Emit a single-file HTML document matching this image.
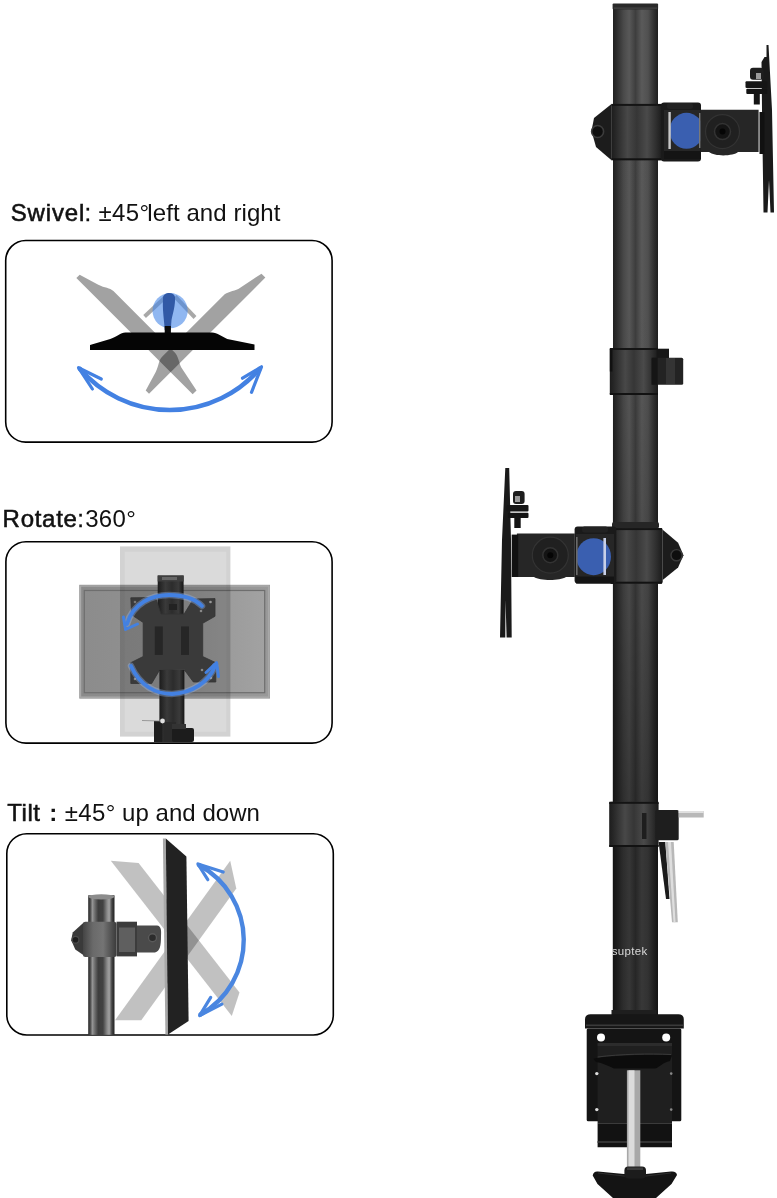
<!DOCTYPE html>
<html><head><meta charset="utf-8">
<style>
html,body{margin:0;padding:0;background:#fff;width:777px;height:1198px;overflow:hidden}
svg{position:absolute;left:0;top:0;display:block}
text{font-family:"Liberation Sans",sans-serif;fill:#111}
</style></head>
<body>
<svg width="777" height="1198" viewBox="0 0 777 1198">
<defs>
  <linearGradient id="pole" x1="0" x2="1" y1="0" y2="0">
    <stop offset="0" stop-color="#202020"/>
    <stop offset="0.08" stop-color="#2c2c2c"/>
    <stop offset="0.24" stop-color="#4a4a4a"/>
    <stop offset="0.36" stop-color="#585858"/>
    <stop offset="0.5" stop-color="#3e3e3e"/>
    <stop offset="0.64" stop-color="#5a5a5a"/>
    <stop offset="0.78" stop-color="#505050"/>
    <stop offset="0.91" stop-color="#303030"/>
    <stop offset="1" stop-color="#1e1e1e"/>
  </linearGradient>
</defs>

<!-- ============ Labels ============ -->
<g font-size="24" fill="#111">
  <text x="10.7" y="221" stroke="#111" stroke-width="0.55" letter-spacing="0.86">Swivel</text>
  <text x="84.5" y="221" stroke="#111" stroke-width="0.3">:</text>
  <text x="98.4" y="221" letter-spacing="0.43">±45°</text>
  <text x="147.3" y="221" letter-spacing="0.08">left and right</text>

  <text x="2.6" y="526.8" stroke="#111" stroke-width="0.55" letter-spacing="0.72">Rotate</text>
  <text x="77.2" y="526.8" stroke="#111" stroke-width="0.3">:</text>
  <text x="85.2" y="526.8" letter-spacing="0.33">360°</text>

  <text x="7.3" y="821" stroke="#111" stroke-width="0.55" letter-spacing="0.5">Tilt</text>
  <text x="49.2" y="821" font-weight="bold">:</text>
  <text x="64.7" y="821" letter-spacing="0.43">±45°</text>
  <text x="122" y="821" letter-spacing="0.05">up and down</text>
</g>

<!-- ============ Panel boxes ============ -->
<rect x="5.7" y="240.5" width="326.4" height="201.6" rx="20" fill="none" stroke="#000" stroke-width="1.6"/>
<rect x="5.9" y="541.7" width="326.2" height="201.4" rx="20" fill="none" stroke="#000" stroke-width="1.6"/>
<rect x="6.8" y="833.7" width="326.5" height="201.3" rx="20" fill="none" stroke="#000" stroke-width="1.6"/>


<!-- ============ Swivel panel ============ -->
<g id="swivel">
  <g opacity="0.36">
    <path transform="translate(134.5,336.2) rotate(45)" d="M-82.25,0 L-82.25,-4.7 L-62,-10.8 C-55,-13 -52,-17 -46.8,-17 L39.6,-17 C45,-17 50,-13 55,-11 L82.25,-5.5 L82.25,0 Z" fill="#000"/>
  </g>
  <g opacity="0.36">
    <path transform="translate(207.2,335.7) rotate(-45)" d="M-82.25,0 L-82.25,-4.7 L-62,-10.8 C-55,-13 -52,-17 -46.8,-17 L39.6,-17 C45,-17 50,-13 55,-11 L82.25,-5.5 L82.25,0 Z" fill="#000"/>
  </g>
  <!-- thin necks -->
  <path d="M144.6,316.5 L166,296.5" stroke="#000" stroke-opacity="0.34" stroke-width="4" fill="none"/>
  <path d="M195,317.5 L175,296.5" stroke="#000" stroke-opacity="0.34" stroke-width="4" fill="none"/>
  <circle cx="170.1" cy="310.7" r="17.6" fill="rgb(70,135,232)" opacity="0.6"/>
  <path d="M163,298 C163,292 174,291 175,297 C175.5,305 173,313 171.5,320 C171,325 171,328 170.9,330 L164.7,330 C164.5,324 163.5,318 163,310 C162.8,304 162.9,301 163,298 Z" fill="#3159a6"/>
  <rect x="164.7" y="326" width="6.2" height="7" fill="#0a0a0a"/>
  <path transform="translate(172.25,350)" d="M-82.25,0 L-82.25,-4.9 L-62,-11 C-55,-13 -52,-17.4 -46.8,-17.4 L39.6,-17.4 C45,-17.4 50,-13 55,-11 L82.25,-5.5 L82.25,0 Z" fill="#050505"/>
  <!-- arrow -->
  <g fill="none" stroke="#4381e2" stroke-linecap="round" stroke-linejoin="round">
    <path d="M80,369 A118.7,118.7 0 0 0 259.5,369" stroke-width="4.6"/>
    <path d="M101.3,379 L78.5,367.7 L92.4,389" stroke-width="3.2"/>
    <path d="M242.5,378.2 L261.5,366.8 L251.5,392.3" stroke-width="3.2"/>
  </g>
</g>


<!-- ============ Rotate panel ============ -->
<g id="rotate">
  <defs>
    <linearGradient id="rpole" x1="0" x2="1">
      <stop offset="0" stop-color="#1c1c1c"/><stop offset="0.3" stop-color="#3a3a3a"/>
      <stop offset="0.55" stop-color="#2c2c2c"/><stop offset="0.8" stop-color="#3a3a3a"/><stop offset="1" stop-color="#161616"/>
    </linearGradient>
  </defs>
  <!-- portrait monitor -->
  <rect x="120" y="546.4" width="110.4" height="190.2" fill="#d2d2d2"/>
  <rect x="124.7" y="551.7" width="101.5" height="180" fill="#dadada"/>
  <!-- landscape monitor (multiply) -->
  <defs>
    <linearGradient id="lscr" x1="0" x2="1">
      <stop offset="0" stop-color="#8c8c8c"/><stop offset="0.5" stop-color="#929292"/><stop offset="1" stop-color="#a2a2a2"/>
    </linearGradient>
    <linearGradient id="lfr" x1="0" x2="1">
      <stop offset="0" stop-color="#8a8a8a"/><stop offset="1" stop-color="#999"/>
    </linearGradient>
  </defs>
  <g style="mix-blend-mode:multiply">
    <rect x="79.3" y="584.8" width="190.7" height="113.8" fill="url(#lfr)"/>
    <rect x="80.5" y="586" width="188.3" height="111.2" fill="none" stroke="#aaa" stroke-width="1.4"/>
    <rect x="84.3" y="590.5" width="180.4" height="102.2" fill="url(#lscr)" stroke="#6e6e6e" stroke-width="1.2"/>
  </g>
  <!-- pole -->
  <rect x="157.7" y="575.5" width="25.9" height="50" fill="url(#rpole)"/>
  <rect x="157.7" y="575.5" width="25.9" height="6" fill="#3e3e3e"/>
  <rect x="162" y="577" width="15" height="3" fill="#666"/>
  <!-- VESA plate -->
  <polygon points="130.8,597.8 155.6,597.5 161.0,614.0 184.1,614.0 193.4,599.0 215.0,598.6 215.0,616.3 202.7,623.3 202.7,656.5 215.8,662.7 215.8,682.0 193.4,682.0 184.1,669.6 159.4,670.4 151.7,683.5 130.8,683.5 130.8,662.7 143.2,656.5 143.2,622.5 131.6,614.8" fill="#3a3a3a" stroke="#333" stroke-width="0.8" stroke-linejoin="round"/>
  <rect x="154.8" y="626.4" width="8" height="28.5" fill="#262626"/>
  <rect x="181" y="626.4" width="8" height="28.5" fill="#262626"/>
  <rect x="169" y="604" width="8" height="6" fill="#222"/>
  <circle cx="135" cy="602" r="1.3" fill="#777"/>
  <circle cx="210.5" cy="602" r="1.3" fill="#999"/>
  <circle cx="201" cy="611" r="1.3" fill="#888"/>
  <circle cx="135" cy="679" r="1.3" fill="#888"/>
  <circle cx="202" cy="670" r="1.3" fill="#888"/>
  <circle cx="211" cy="678" r="1.3" fill="#888"/>
  <!-- lower pole -->
  <rect x="159.4" y="670" width="25" height="72" fill="url(#rpole)"/>
  <!-- rotation arrows -->
  <g fill="none" stroke-linecap="round" stroke-linejoin="round">
    <g stroke="#9cc0ff" stroke-opacity="0.35" stroke-width="6.5">
      <path d="M127,624 C133,603 152,595 169,595 C185,595 196,600 202,606"/>
      <path d="M131,666 C140,686 156,694 172,694 C192,693 209,682 215,666"/>
    </g>
    <g stroke="#4381e2" stroke-width="3.8">
      <path d="M127,624 C133,603 152,595 169,595 C185,595 196,600 202,606"/>
      <path d="M131,666 C140,686 156,694 172,694 C192,693 209,682 215,666"/>
    </g>
    <g stroke="#4381e2" stroke-width="3">
      <path d="M123.5,617 L125.5,629.5 L137.5,624"/>
      <path d="M206,672.5 L216.6,662.7 L218.5,676.5"/>
    </g>
  </g>
  <!-- lower clamp -->
  <rect x="154" y="721" width="8" height="21" fill="#1e1e1e"/>
  <rect x="164" y="722" width="12" height="20" fill="#2a2a2a"/>
  <rect x="172" y="728" width="22" height="14" rx="2" fill="#1c1c1c"/>
  <rect x="172" y="724" width="14" height="5" fill="#333"/>
  <circle cx="162.5" cy="721" r="2.4" fill="#e0e0e0"/>
  <path d="M142,720.5 L160,721" stroke="#888" stroke-width="0.8"/>
</g>

<!-- ============ Tilt panel ============ -->
<g id="tilt">
  <defs>
    <linearGradient id="tpole" x1="0" x2="1">
      <stop offset="0" stop-color="#2a2a2a"/><stop offset="0.08" stop-color="#4a4a4a"/>
      <stop offset="0.16" stop-color="#959595"/><stop offset="0.26" stop-color="#6a6a6a"/>
      <stop offset="0.38" stop-color="#3e3e3e"/><stop offset="0.56" stop-color="#424242"/>
      <stop offset="0.72" stop-color="#8a8a8a"/><stop offset="0.8" stop-color="#a2a2a2"/>
      <stop offset="0.9" stop-color="#444"/><stop offset="1" stop-color="#202020"/>
    </linearGradient>
    <linearGradient id="tcol" x1="0" x2="1">
      <stop offset="0" stop-color="#444"/><stop offset="0.3" stop-color="#6a6a6a"/>
      <stop offset="0.6" stop-color="#747474"/><stop offset="1" stop-color="#3a3a3a"/>
    </linearGradient>
  </defs>
  <!-- gray X -->
  <polygon points="110.8,860.8 138.6,863.1 239.5,992.4 231.8,1015.9" fill="#000" fill-opacity="0.245"/>
  <polygon points="230.2,860.8 236.3,888.6 141.3,1020.2 115,1020.2" fill="#000" fill-opacity="0.245"/>
  <!-- pole -->
  <rect x="88.2" y="895.3" width="26.3" height="139.5" fill="url(#tpole)"/>
  <ellipse cx="101.3" cy="896.8" rx="13" ry="2.6" fill="#8c8c8c"/>
  <!-- collar & bracket -->
  <path d="M84,922.3 L72.7,932.6 L71.2,940.3 L75.3,949.4 L84,955.5 Z" fill="#3a3a3a"/>
  <circle cx="75.5" cy="939.7" r="3.4" fill="#1e1e1e" stroke="#4a4a4a" stroke-width="1.2"/>
  <rect x="83" y="921.7" width="33.5" height="35.3" rx="2.5" fill="url(#tcol)"/>
  <rect x="116.5" y="921.7" width="20.5" height="34.7" fill="#3c3c3c"/>
  <rect x="119" y="927.5" width="16" height="24.5" fill="#5f5f5f"/>
  <path d="M137,925.5 L157,925.5 C161,926 161.5,930 161,936 C161,946 160,951 155,952.6 L137,952.6 Z" fill="#4a4a4a"/>
  <circle cx="152.5" cy="937.8" r="4" fill="#2c2c2c" stroke="#5a5a5a" stroke-width="1.4"/>
  <!-- black monitor -->
  <polygon points="162.9,838.4 165.8,838.4 168,1034.4 165.4,1034.4" fill="#a8a8a8"/>
  <polygon points="165.8,838.4 186.4,856.4 188.6,1020.9 168,1034.4" fill="#222"/>
  <!-- arrow -->
  <g fill="none" stroke="#4a86e0" stroke-linecap="round" stroke-linejoin="round">
    <path d="M199,865 A85.5,85.5 0 0 1 200.5,1014.5" stroke-width="4.4"/>
    <path d="M223.2,872 L197.9,864 L207.8,879.7" stroke-width="3.2"/>
    <path d="M210.7,997.4 L199.6,1015.7 L221.9,1004.1" stroke-width="3.2"/>
  </g>
</g>

<!-- ============ Main pole ============ -->
<g id="main">
  <defs>
    <linearGradient id="col" x1="0" x2="1">
      <stop offset="0" stop-color="#1c1c1c"/><stop offset="0.12" stop-color="#2c2c2c"/>
      <stop offset="0.32" stop-color="#484848"/><stop offset="0.5" stop-color="#363636"/>
      <stop offset="0.7" stop-color="#4a4a4a"/><stop offset="0.88" stop-color="#2e2e2e"/><stop offset="1" stop-color="#1a1a1a"/>
    </linearGradient>
    <linearGradient id="poleshade" x1="0" x2="0" y1="0" y2="1">
      <stop offset="0" stop-color="#000" stop-opacity="0"/>
      <stop offset="0.35" stop-color="#000" stop-opacity="0.02"/>
      <stop offset="0.6" stop-color="#000" stop-opacity="0.2"/>
      <stop offset="0.8" stop-color="#000" stop-opacity="0.38"/>
      <stop offset="1" stop-color="#000" stop-opacity="0.38"/>
    </linearGradient>
    <linearGradient id="pole2" x1="0" x2="1">
      <stop offset="0" stop-color="#141414"/><stop offset="0.2" stop-color="#222"/>
      <stop offset="0.42" stop-color="#303030"/><stop offset="0.6" stop-color="#252525"/>
      <stop offset="0.8" stop-color="#333"/><stop offset="1" stop-color="#151515"/>
    </linearGradient>
  </defs>
  <!-- pole -->
  <rect x="613" y="4.3" width="45" height="1017" fill="url(#pole)"/>
  <rect x="612.6" y="3.6" width="45.5" height="6" rx="1" fill="#2a2a2a"/>
  <rect x="614" y="7.6" width="43" height="1" fill="#4a4a4a"/>
  <rect x="612.5" y="4.3" width="45.5" height="1017" fill="url(#poleshade)"/>

  <!-- ===== Top bracket ===== -->
  <path d="M611.5,103.9 L594,118 L591.5,131 L596,147 L611.5,160.3 Z" fill="#1c1c1c"/>
  <circle cx="597.6" cy="131.5" r="6" fill="#0e0e0e" stroke="#3c3c3c" stroke-width="1.6"/>
  <rect x="611.3" y="103.9" width="51" height="56.4" rx="2" fill="url(#col)"/>
  <rect x="611.3" y="103.9" width="51" height="2" fill="#141414"/>
  <rect x="611.3" y="158.3" width="51" height="2" fill="#121212"/>
  <!-- hinge block -->
  <rect x="661" y="102.6" width="40" height="58.9" rx="3" fill="#1a1a1a"/>
  <rect x="664" y="110" width="36" height="44" fill="#262626"/>
  <ellipse cx="686.5" cy="130.8" rx="17" ry="18" fill="#3a5fb0"/>
  <rect x="668.4" y="112" width="2.4" height="37" fill="#c8c8c8"/>
  <rect x="699" y="113" width="1.8" height="35" fill="#7a7a7a"/>
  <rect x="664" y="151" width="37" height="8" fill="#141414"/>
  <rect x="667" y="103" width="26" height="6" rx="2.5" fill="#222"/>
  <!-- arm plate -->
  <path d="M700.5,109.7 L758.6,109.7 L758.6,152 L738,152 C734,156 715,157 709,152 L700.5,152 Z" fill="#262626"/>
  <circle cx="722.5" cy="131.6" r="17" fill="#202020" stroke="#333" stroke-width="1.2"/>
  <circle cx="722.5" cy="131.6" r="8" fill="#141414" stroke="#333" stroke-width="1.5"/>
  <circle cx="722.5" cy="131.6" r="3" fill="#050505"/>
  <!-- VESA plate & bolt -->
  <path d="M766.5,45 L768.5,45 L772,110 L774,212.5 L770.5,212.5 L769,180 L767.5,212.5 L763.5,212.5 L762,110 L761.5,62 L764.5,57 L766.5,57 Z" fill="#1a1a1a"/>
  <rect x="759.5" y="112" width="5" height="42" fill="#111"/>
  <rect x="745.5" y="81.3" width="21.7" height="6.7" rx="1" fill="#161616"/>
  <rect x="746.3" y="88.8" width="21" height="5.2" rx="1" fill="#141414"/>
  <rect x="753.8" y="94" width="6" height="10.5" fill="#141414"/>
  <rect x="750" y="67.8" width="13.5" height="12" rx="3" fill="#1e1e1e"/>
  <rect x="756" y="73" width="5" height="6" fill="#9a9a9a"/>
  <!-- ===== Upper-middle collar with clip ===== -->
  <rect x="609.8" y="348" width="48.2" height="47" rx="1.5" fill="url(#col)"/>
  <rect x="609.8" y="348" width="48.2" height="2" fill="#141414"/>
  <rect x="609.8" y="393" width="48.2" height="2" fill="#121212"/>
  <rect x="609.8" y="349.5" width="2.6" height="22" fill="#111"/>
  <rect x="656.8" y="348.7" width="12.2" height="10" fill="#171717"/>
  <rect x="651.6" y="357.7" width="31.6" height="27" rx="1.5" fill="#232323"/>
  <rect x="651.6" y="357.7" width="6" height="27" fill="#151515"/>
  <rect x="666" y="358" width="9" height="26" fill="#343434"/>

  <!-- ===== Middle bracket ===== -->
  <path d="M662.7,529.7 L678.1,542.8 L683.5,555.2 L678.1,567.5 L662.7,579.9 Z" fill="#1c1c1c"/>
  <circle cx="676.6" cy="555.2" r="5.6" fill="#0e0e0e" stroke="#3a3a3a" stroke-width="1.4"/>
  <rect x="612" y="522" width="47" height="6.5" rx="2" fill="#262626"/>
  <rect x="609.5" y="528.1" width="53.2" height="55.6" rx="2" fill="url(#col)"/>
  <rect x="611" y="528.1" width="51" height="2" fill="#141414"/>
  <rect x="611" y="581.7" width="51" height="2" fill="#121212"/>
  <!-- hinge block -->
  <rect x="574.6" y="526.6" width="41.7" height="57" rx="3" fill="#1a1a1a"/>
  <rect x="576" y="534" width="38" height="44" fill="#262626"/>
  <ellipse cx="593.6" cy="556.7" rx="17.4" ry="18.5" fill="#3a5fb0"/>
  <rect x="576" y="537" width="1.6" height="38" fill="#6a6a6a"/>
  <rect x="603.4" y="538" width="2.6" height="37" fill="#c8d0e8"/>
  <rect x="576" y="576.5" width="38" height="7" fill="#141414"/>
  <rect x="582" y="526.6" width="26" height="6" rx="2.5" fill="#222"/>
  <!-- arm plate -->
  <path d="M516.9,533.4 L574.8,533.4 L574.8,577.1 L566,577.1 C560,581 540,581 534,577.1 L516.9,577.1 Z" fill="#262626"/>
  <circle cx="550.3" cy="555.2" r="18" fill="#202020" stroke="#333" stroke-width="1.2"/>
  <circle cx="550.3" cy="555.2" r="7.5" fill="#141414" stroke="#333" stroke-width="1.5"/>
  <circle cx="550.3" cy="555.2" r="3" fill="#050505"/>
  <!-- VESA plate -->
  <path d="M505.3,468 L509.2,468 L511,540 L511.7,637.6 L506.6,637.6 L505.5,600 L505.3,637.6 L500,637.6 L502,540 Z" fill="#1a1a1a"/>
  <rect x="511.7" y="534.6" width="6.5" height="42.4" fill="#111"/>
  <rect x="506.6" y="505" width="21.9" height="6.5" rx="1" fill="#161616"/>
  <rect x="507.9" y="512.8" width="20.6" height="5.1" rx="1" fill="#141414"/>
  <rect x="514.3" y="518" width="6.4" height="10" fill="#141414"/>
  <rect x="513" y="491" width="11.6" height="13" rx="3" fill="#1e1e1e"/>
  <rect x="515" y="496" width="5" height="6" fill="#9a9a9a"/>

  <!-- ===== Lower collar with allen key ===== -->
  <rect x="609.2" y="801.8" width="49.4" height="45.2" rx="1.5" fill="url(#col)"/>
  <rect x="609.2" y="801.8" width="49.4" height="2" fill="#141414"/>
  <rect x="609.2" y="845" width="49.4" height="2" fill="#121212"/>
  <rect x="655.3" y="810" width="23.4" height="30.3" rx="1.5" fill="#1e1e1e"/>
  <rect x="678.7" y="811" width="25" height="6.5" fill="#b8b8b8"/>
  <rect x="678.7" y="811" width="25" height="2" fill="#e0e0e0"/>
  <path d="M658.6,842 L665.3,842 L669.5,899 L666,899 Z" fill="#1a1a1a"/>
  <rect x="642" y="813" width="4.5" height="26" fill="#1e1e1e"/>
  <path d="M665.3,842 L673.7,842 L677.8,922.3 L672,922.3 Z" fill="#b8b8b8"/>
  <path d="M668,842 L671,842 L675.5,922.3 L673.5,922.3 Z" fill="#dedede"/>

  <!-- brand -->
  <text x="611.8" y="955" font-size="11.5" fill="#d8d8d8" style="fill:#d8d8d8" letter-spacing="0.3">suptek</text>

  <!-- ===== Clamp ===== -->
  <rect x="611.5" y="1010" width="45" height="8" fill="#1e1e1e"/>
  <rect x="608" y="1015" width="52" height="3" fill="#222"/>
  <path d="M585,1019.5 Q585,1014.2 590.5,1014.2 L678.5,1014.2 Q683.8,1014.2 683.8,1019.5 L683.8,1028.4 L585,1028.4 Z" fill="#161616"/>
  <rect x="586" y="1024.5" width="97" height="1.6" fill="#3a3a3a"/>
  <rect x="586.7" y="1028.4" width="94.6" height="92.9" rx="1.5" fill="#141414"/>
  <rect x="597.6" y="1043" width="74.4" height="80.8" fill="#1f1f1f"/>
  <rect x="597.6" y="1043" width="74.4" height="3" fill="#2c2c2c"/>
  <circle cx="601" cy="1037.6" r="4" fill="#fff"/>
  <circle cx="666.2" cy="1037.6" r="4" fill="#fff"/>
  <circle cx="596.8" cy="1073.6" r="1.7" fill="#ddd"/>
  <circle cx="596.8" cy="1109.6" r="1.7" fill="#ddd"/>
  <circle cx="671.2" cy="1073.6" r="1.3" fill="#888"/>
  <circle cx="671.2" cy="1109.6" r="1.3" fill="#888"/>
  <path d="M593.4,1059 C600,1056 650,1054 672,1055.2 L670,1061 C662,1063 660,1067 655,1068.6 L614,1068.6 C608,1066 603,1063 596,1062 Z" fill="#0c0c0c"/>
  <path d="M597.6,1057 C620,1054 650,1053.5 671,1054.5" stroke="#3a3a3a" stroke-width="1" fill="none"/>
  <path d="M597.6,1123.8 L672,1123.8 L672,1147.2 L597.6,1147.2 Z" fill="#121212"/>
  <rect x="597.6" y="1141" width="74.4" height="2" fill="#333"/>
  <rect x="626.9" y="1070.3" width="13.4" height="102" fill="#a8a8a8"/>
  <rect x="628.5" y="1070.3" width="6" height="102" fill="#dcdcdc"/>
  <path d="M592.7,1175.5 Q593.5,1171 598,1171.5 L624,1174 L646,1174 L671,1171.5 Q676.5,1171 677,1175 L671.5,1184 L656,1198 L613,1198 L597.5,1184 Z" fill="#141414"/>
  <path d="M598,1173 L624,1176 L646,1176 L671,1173" stroke="#2e2e2e" stroke-width="1.2" fill="none"/>
  <rect x="624.4" y="1166.5" width="21.6" height="12" rx="4" fill="#1c1c1c"/>
  <rect x="627" y="1167.5" width="16" height="2.5" fill="#3a3a3a"/>
</g>

</svg>
</body></html>
